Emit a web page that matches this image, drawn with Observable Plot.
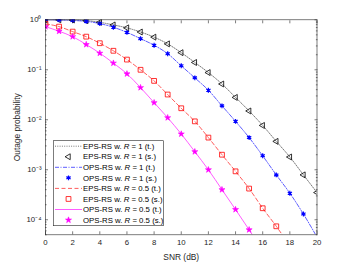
<!DOCTYPE html>
<html>
<head>
<meta charset="utf-8">
<script src="https://cdn.jsdelivr.net/npm/d3@7"></script>
<script src="https://cdn.jsdelivr.net/npm/@observablehq/plot@0.6"></script>
<style>
  html, body { margin: 0; padding: 0; background: #fff; }
  #chart svg { font-family: "Liberation Sans", Arial, sans-serif; }
</style>
</head>
<body>
<div id="chart"></div>
<script>
// ---- data ----
const snr = [0,1,2,3,4,5,6,7,8,9,10,11,12,13,14,15,16,17,18,19,20];
const epsR1 = [1, 0.999, 0.99, 0.96, 0.89, 0.79, 0.69, 0.57, 0.45, 0.33, 0.22, 0.14, 0.088, 0.052, 0.028, 0.015, 0.0077, 0.0037, 0.0018, 0.00079, 0.00035];
const opsR1 = [1, 0.995, 0.97, 0.93, 0.84, 0.71, 0.56, 0.42, 0.31, 0.21, 0.12, 0.069, 0.039, 0.019, 0.0093, 0.0044, 0.0019, 0.00079, 0.00034, 0.00013, 0.000045];
const epsR05 = [0.83, 0.73, 0.58, 0.46, 0.34, 0.24, 0.16, 0.1, 0.06, 0.032, 0.017, 0.0093, 0.0044, 0.002, 0.00093, 0.00042, 0.00017, 0.000074, 0.00003];
const opsR05 = [0.73, 0.59, 0.46, 0.32, 0.215, 0.136, 0.083, 0.044, 0.022, 0.011, 0.0052, 0.0023, 0.001, 0.0004, 0.00016, 0.000063, 0.000024];
const xTicks = [0,2,4,6,8,10,12,14,16,18,20];
const yTicks = [1, 0.1, 0.01, 0.001, 0.0001];
const yTickLabels = ["10⁰", "10⁻¹", "10⁻²", "10⁻³", "10⁻⁴"];
const legendLabels = [
  ["EPS-RS w. ", "R", " = 1 (t.)"],
  ["EPS-RS w. ", "R", " = 1 (s.)"],
  ["OPS-RS w. ", "R", " = 1 (t.)"],
  ["OPS-RS w. ", "R", " = 1 (s.)"],
  ["EPS-RS w. ", "R", " = 0.5 (t.)"],
  ["EPS-RS w. ", "R", " = 0.5 (s.)"],
  ["OPS-RS w. ", "R", " = 0.5 (t.)"],
  ["OPS-RS w. ", "R", " = 0.5 (s.)"]
];

const toRows = (vals) => vals.map((v, i) => ({x: snr[i], y: v}));
const sEpsR1 = toRows(epsR1), sOpsR1 = toRows(opsR1), sEpsR05 = toRows(epsR05), sOpsR05 = toRows(opsR05);

// styles
const S = {
  epsR1Line: {stroke: "#555", strokeDasharray: "1,1.3", strokeWidth: 0.8},
  opsR1Line: {stroke: "#3333ff", strokeDasharray: "4,1.5,1,1.5", strokeWidth: 0.8},
  epsR05Line: {stroke: "#ff3333", strokeDasharray: "4,2.5", strokeWidth: 0.8},
  opsR05Line: {stroke: "#ff33ff", strokeWidth: 0.8}
};
const R = {tri: 2.2, ast: 2.3, sq: 2.7, star: 1.9};

const minorTicks = [];
for (let e = -5; e <= -1; e++) for (let k = 2; k <= 9; k++) {
  const v = k * Math.pow(10, e);
  if (v >= 5e-5 && v < 1) minorTicks.push(v);
}
const fmtY = (d) => yTickLabels[yTicks.findIndex(t => Math.abs(t - d) / d < 1e-6)] ?? "";

const W = 350, H = 263;
const plot = Plot.plot({
  width: W, height: H,
  marginLeft: 45, marginRight: 33.5, marginTop: 19.3, marginBottom: 28.7,
  style: {fontSize: "7.8px", fontFamily: "Liberation Sans, Arial, sans-serif", color: "#262626"},
  x: {domain: [0, 20]},
  y: {type: "log", domain: [5e-5, 1]},
  marks: [
    // theory lines
    Plot.line(sEpsR1, {x: "x", y: "y", curve: "monotone-x", clip: true, ...S.epsR1Line}),
    Plot.line(sOpsR1, {x: "x", y: "y", curve: "monotone-x", clip: true, ...S.opsR1Line}),
    Plot.line(sEpsR05, {x: "x", y: "y", curve: "monotone-x", clip: true, ...S.epsR05Line}),
    Plot.line(sOpsR05, {x: "x", y: "y", curve: "monotone-x", clip: true, ...S.opsR05Line}),
    // simulation markers
    Plot.dot(sEpsR1, {x: "x", y: "y", symbol: "triangle", rotate: -90, r: R.tri, stroke: "#000", fill: "none", strokeWidth: 0.8, clip: true}),
    Plot.dot(sOpsR1, {x: "x", y: "y", symbol: "asterisk", r: R.ast, stroke: "#0000ff", strokeWidth: 1.2, clip: true}),
    Plot.dot(sOpsR1, {x: "x", y: "y", symbol: "circle", r: 1.2, fill: "#0000ff", clip: true}),
    Plot.dot(sEpsR05, {x: "x", y: "y", symbol: "square", r: R.sq, stroke: "#ff0000", fill: "none", strokeWidth: 0.8, clip: true}),
    Plot.dot(sOpsR05, {x: "x", y: "y", symbol: "star", r: R.star, fill: "#ff00ff", stroke: "#ff00ff", strokeWidth: 0.6, clip: true}),
    // frame and ticks
    Plot.frame({stroke: "#262626", strokeWidth: 0.6}),
    Plot.axisX({ticks: xTicks, tickSize: 0, tickPadding: 5, label: "SNR (dB)", labelAnchor: "center", labelArrow: "none", labelOffset: 25}),
    Plot.axisX({ticks: xTicks, tickSize: -3, tickFormat: () => "", label: null, strokeWidth: 0.6}),
    Plot.axisX({anchor: "top", ticks: xTicks, tickSize: -3, tickFormat: () => "", label: null, strokeWidth: 0.6}),
    Plot.axisY({ticks: yTicks, tickSize: 0, tickPadding: 4, tickFormat: fmtY, label: "Outage probability", labelAnchor: "center", labelArrow: "none", labelOffset: 31}),
    Plot.axisY({ticks: yTicks, tickSize: -3, tickFormat: () => "", label: null, strokeWidth: 0.6}),
    Plot.axisY({ticks: minorTicks, tickSize: -1.6, tickFormat: () => "", label: null, strokeWidth: 0.6}),
    Plot.axisY({anchor: "right", ticks: yTicks, tickSize: -3, tickFormat: () => "", label: null, strokeWidth: 0.6}),
    Plot.axisY({anchor: "right", ticks: minorTicks, tickSize: -1.6, tickFormat: () => "", label: null, strokeWidth: 0.6})
  ]
});
document.getElementById("chart").appendChild(plot);

const svg = d3.select(plot);
// axis titles slightly larger than tick labels
svg.selectAll('g[aria-label="x-axis label"], g[aria-label="y-axis label"]').attr("font-size", "8.4px");

// ---- legend (inside the plot area, lower left) ----
const lg = svg.append("g").attr("font-size", "7.8px").attr("fill", "#000").attr("text-anchor", "start");
const bx = 53.3, by = 140.7, bw = 110, bh = 85;
lg.append("rect").attr("x", bx).attr("y", by).attr("width", bw).attr("height", bh)
  .attr("fill", "#fff").attr("stroke", "#262626").attr("stroke-width", 0.6);
const rowY = (i) => by + 5.5 + i * 10.55;
const lineStyles = [S.epsR1Line, S.opsR1Line, S.epsR05Line, S.opsR05Line];
const symbolDefs = [
  {type: d3.symbolTriangle, r: R.tri, rotate: -90, stroke: "#000", fill: "none", sw: 0.8},
  {type: d3.symbolAsterisk, r: R.ast, rotate: 0, stroke: "#0000ff", fill: "none", sw: 1.2, dot: "#0000ff"},
  {type: d3.symbolSquare, r: R.sq, rotate: 0, stroke: "#ff0000", fill: "none", sw: 0.8},
  {type: d3.symbolStar, r: R.star, rotate: 0, stroke: "#ff00ff", fill: "#ff00ff", sw: 0.6}
];
legendLabels.forEach((parts, i) => {
  const y = rowY(i);
  const k = Math.floor(i / 2);
  if (i % 2 === 0) {
    const st = lineStyles[k];
    lg.append("line").attr("x1", 55).attr("x2", 82).attr("y1", y).attr("y2", y)
      .attr("stroke", st.stroke).attr("stroke-width", st.strokeWidth)
      .attr("stroke-dasharray", st.strokeDasharray || null);
  } else {
    const sd = symbolDefs[k];
    lg.append("path").attr("d", d3.symbol(sd.type, Math.PI * sd.r * sd.r)())
      .attr("transform", `translate(68.5,${y}) rotate(${sd.rotate})`)
      .attr("stroke", sd.stroke).attr("fill", sd.fill).attr("stroke-width", sd.sw);
    if (sd.dot) lg.append("circle").attr("cx", 68.5).attr("cy", y).attr("r", 1.2).attr("fill", sd.dot);
  }
  const t = lg.append("text").attr("x", 83).attr("y", y).attr("dy", "0.35em");
  t.append("tspan").text(parts[0]);
  t.append("tspan").attr("font-style", "italic").text(parts[1]);
  t.append("tspan").text(parts[2]);
});
</script>
</body>
</html>
